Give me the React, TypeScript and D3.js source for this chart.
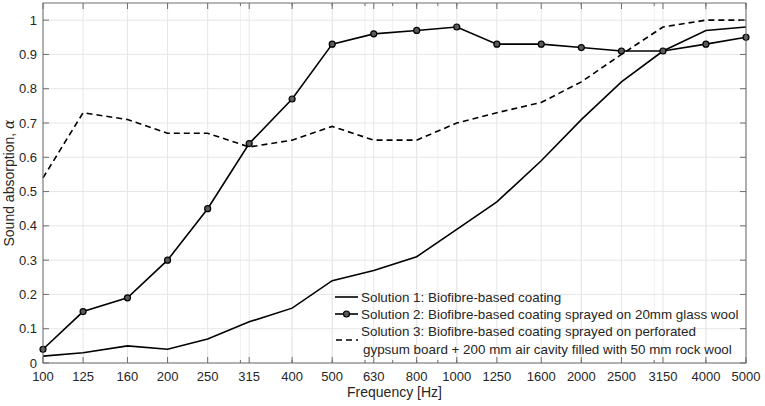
import { useEffect, useRef } from "react"
import * as d3 from "d3"

const frequencies = [100, 125, 160, 200, 250, 315, 400, 500, 630, 800, 1000, 1250, 1600, 2000, 2500, 3150, 4000, 5000]
const solution1 = [0.02, 0.03, 0.05, 0.04, 0.07, 0.12, 0.16, 0.24, 0.27, 0.31, 0.39, 0.47, 0.59, 0.71, 0.82, 0.91, 0.97, 0.98]
const solution2 = [0.04, 0.15, 0.19, 0.3, 0.45, 0.64, 0.77, 0.93, 0.96, 0.97, 0.98, 0.93, 0.93, 0.92, 0.91, 0.91, 0.93, 0.95]
const solution3 = [0.54, 0.73, 0.71, 0.67, 0.67, 0.63, 0.65, 0.69, 0.65, 0.65, 0.7, 0.73, 0.76, 0.82, 0.9, 0.98, 1.0, 1.0]
const yTicks = [0, 0.1, 0.2, 0.3, 0.4, 0.5, 0.6, 0.7, 0.8, 0.9, 1]
const minorTicks = [200, 300, 400, 500, 600, 700, 800, 900, 1000, 2000, 3000, 4000, 5000]
const legendLabels = [
  ["Solution 1: Biofibre-based coating"],
  ["Solution 2: Biofibre-based coating sprayed on 20mm glass wool"],
  ["Solution 3: Biofibre-based coating sprayed on perforated", "gypsum board + 200 mm air cavity filled with 50 mm rock wool"],
]

const FONT = "'Liberation Sans', Arial, Helvetica, sans-serif"
const TEXT = "#262626"
const AXIS = "#6e6e6e"

export default function App() {
  const svgRef = useRef<SVGSVGElement | null>(null)

  useEffect(() => {
    if (!svgRef.current) return

    const width = 765
    const height = 406
    const margin = { top: 3, right: 19, bottom: 43, left: 43 }

    const svg = d3.select(svgRef.current).attr("width", width).attr("height", height)
    svg.selectAll("*").remove()

    const x = d3.scaleLog().domain([100, 5000]).range([margin.left, width - margin.right])
    const y = d3.scaleLinear().domain([0, 1.05]).range([height - margin.bottom, margin.top])
    const [x0, x1] = x.range()
    const [y0, y1] = y.range()

    // grid
    const grid = svg.append("g")
    grid.selectAll(".minor").data(minorTicks).join("line")
      .attr("x1", d => x(d)).attr("x2", d => x(d))
      .attr("y1", y0).attr("y2", y1)
      .attr("stroke", "#f0f0f0").attr("stroke-width", 1)
    grid.selectAll(".gx").data(frequencies).join("line")
      .attr("x1", d => x(d)).attr("x2", d => x(d))
      .attr("y1", y0).attr("y2", y1)
      .attr("stroke", "#e6e6e6").attr("stroke-width", 1)
    grid.selectAll(".gy").data(yTicks).join("line")
      .attr("x1", x0).attr("x2", x1)
      .attr("y1", d => y(d)).attr("y2", d => y(d))
      .attr("stroke", "#e6e6e6").attr("stroke-width", 1)

    // series
    const line = d3.line<number>()
      .x((_, i) => x(frequencies[i]))
      .y(d => y(d))

    svg.append("path").datum(solution1)
      .attr("fill", "none").attr("stroke", "#000").attr("stroke-width", 1.6)
      .attr("d", line)
    svg.append("path").datum(solution3)
      .attr("fill", "none").attr("stroke", "#000").attr("stroke-width", 1.6)
      .attr("stroke-dasharray", "6,4")
      .attr("d", line)
    svg.append("path").datum(solution2)
      .attr("fill", "none").attr("stroke", "#000").attr("stroke-width", 1.6)
      .attr("d", line)
    svg.append("g").selectAll("circle").data(solution2).join("circle")
      .attr("cx", (_, i) => x(frequencies[i]))
      .attr("cy", d => y(d))
      .attr("r", 3)
      .attr("fill", "#5a5a5a").attr("stroke", "#000").attr("stroke-width", 1.2)

    // box
    svg.append("rect")
      .attr("x", x0).attr("y", y1)
      .attr("width", x1 - x0).attr("height", y0 - y1)
      .attr("fill", "none").attr("stroke", AXIS).attr("stroke-width", 1)

    // ticks (inward, on all sides)
    const ticks = svg.append("g").attr("stroke", AXIS).attr("stroke-width", 1)
    minorTicks.forEach(d => {
      ticks.append("line").attr("x1", x(d)).attr("x2", x(d)).attr("y1", y0).attr("y2", y0 - 3)
      ticks.append("line").attr("x1", x(d)).attr("x2", x(d)).attr("y1", y1).attr("y2", y1 + 3)
    })
    frequencies.forEach(d => {
      ticks.append("line").attr("x1", x(d)).attr("x2", x(d)).attr("y1", y0).attr("y2", y0 - 6)
      ticks.append("line").attr("x1", x(d)).attr("x2", x(d)).attr("y1", y1).attr("y2", y1 + 6)
    })
    yTicks.forEach(d => {
      ticks.append("line").attr("x1", x0).attr("x2", x0 + 6).attr("y1", y(d)).attr("y2", y(d))
      ticks.append("line").attr("x1", x1).attr("x2", x1 - 6).attr("y1", y(d)).attr("y2", y(d))
    })

    // tick labels
    svg.append("g").selectAll("text").data(frequencies).join("text")
      .attr("x", d => x(d)).attr("y", y0 + 18)
      .attr("text-anchor", "middle")
      .attr("font-family", FONT).attr("font-size", 13).attr("fill", TEXT)
      .text(d => String(d))
    svg.append("g").selectAll("text").data(yTicks).join("text")
      .attr("x", x0 - 6).attr("y", d => y(d) + 4.5)
      .attr("text-anchor", "end")
      .attr("font-family", FONT).attr("font-size", 13).attr("fill", TEXT)
      .text(d => String(d))

    // axis titles
    svg.append("text")
      .attr("x", (x0 + x1) / 2).attr("y", y0 + 34)
      .attr("text-anchor", "middle")
      .attr("font-family", FONT).attr("font-size", 14).attr("fill", TEXT)
      .text("Frequency [Hz]")
    const yl = svg.append("text")
      .attr("transform", `translate(14, ${(y0 + y1) / 2}) rotate(-90)`)
      .attr("text-anchor", "middle")
      .attr("font-family", FONT).attr("font-size", 14).attr("fill", TEXT)
    yl.append("tspan").text("Sound absorption, ")
    yl.append("tspan").attr("font-style", "italic").attr("font-family", "'DejaVu Serif', serif").text("α")

    // legend
    const lx = 335
    const rows = [297, 314, 340]
    const legend = svg.append("g")
    rows.forEach((ry, i) => {
      const sample = legend.append("line")
        .attr("x1", lx).attr("x2", lx + 23).attr("y1", ry).attr("y2", ry)
        .attr("stroke", "#000").attr("stroke-width", 1.6)
      if (i === 2) sample.attr("stroke-dasharray", "6,4").attr("x1", lx + 1)
      if (i === 1) {
        legend.append("circle").attr("cx", lx + 11.5).attr("cy", ry).attr("r", 3)
          .attr("fill", "#5a5a5a").attr("stroke", "#000").attr("stroke-width", 1.2)
      }
      const labels = legendLabels[i]
      labels.forEach((t, j) => {
        const ty = labels.length === 1 ? ry + 4.5 : ry - 8.5 + j * 17.5 + 4.5
        legend.append("text")
          .attr("x", lx + 26 + j * 2).attr("y", ty)
          .attr("font-family", FONT).attr("font-size", 13.4).attr("fill", TEXT)
          .text(t)
      })
    })
  }, [])

  return (
    <div style={{ position: "absolute", left: 0, top: 0, background: "#fff" }}>
      <svg ref={svgRef} style={{ display: "block" }} />
    </div>
  )
}
